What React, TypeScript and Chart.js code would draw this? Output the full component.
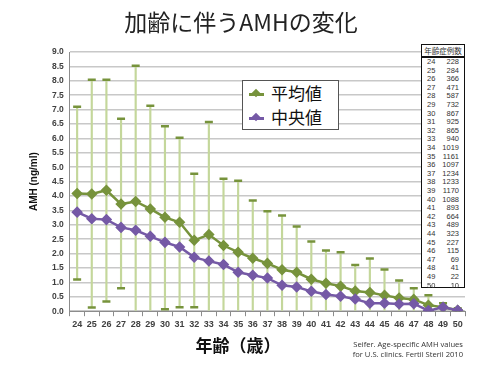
import React, { useEffect, useRef } from "react";
import { Chart, registerables } from "chart.js";

Chart.register(...registerables);

const ages = [24, 25, 26, 27, 28, 29, 30, 31, 32, 33, 34, 35, 36, 37, 38, 39, 40, 41, 42, 43, 44, 45, 46, 47, 48, 49, 50];
const meanValues = [4.09, 4.07, 4.2, 3.72, 3.81, 3.55, 3.26, 3.09, 2.46, 2.66, 2.28, 2.05, 1.84, 1.66, 1.44, 1.35, 1.11, 0.97, 0.87, 0.7, 0.65, 0.55, 0.46, 0.41, 0.21, 0.14, 0.03];
const medianValues = [3.44, 3.21, 3.18, 2.91, 2.81, 2.6, 2.39, 2.23, 1.87, 1.74, 1.62, 1.35, 1.25, 1.15, 0.9, 0.84, 0.69, 0.58, 0.52, 0.42, 0.28, 0.28, 0.25, 0.26, 0.02, 0.14, 0.03];
const upperValues = [7.1, 8.04, 8.04, 6.68, 8.52, 7.13, 6.42, 6.02, 4.77, 6.57, 4.6, 4.53, 3.84, 3.47, 3.32, 2.94, 2.42, 2.11, 2.05, 1.6, 1.83, 1.45, 1.07, 0.8, 0.55, 0.28, 0.1];
const lowerValues: (number | null)[] = [1.1, 0.13, 0.34, 0.8, null, null, 0.07, 0.14, 0.14, null, null, null, null, null, null, null, null, null, null, null, null, null, null, null, null, null, null];
const caseCounts = [228, 284, 366, 471, 587, 732, 867, 925, 865, 940, 1019, 1161, 1097, 1234, 1233, 1170, 1088, 893, 664, 489, 323, 227, 115, 69, 41, 22, 10];
const yTicks = [0, 0.5, 1, 1.5, 2, 2.5, 3, 3.5, 4, 4.5, 5, 5.5, 6, 6.5, 7, 7.5, 8, 8.5, 9];

const OLIVE = "#77933c";
const LIGHT_OLIVE = "#c4d79b";
const PURPLE = "#7559a6";

export default function App() {
  const canvasRef = useRef<HTMLCanvasElement | null>(null);

  useEffect(() => {
    if (!canvasRef.current) return;
    const chart = new Chart(canvasRef.current, {
      type: "bar",
      data: {
        labels: ages.map(String),
        datasets: [
          {
            type: "bar",
            label: "range",
            data: upperValues.map((u, i) => [lowerValues[i] ?? 0, u]) as any,
            backgroundColor: LIGHT_OLIVE,
            barThickness: 1.5,
            order: 4,
          } as any,
          {
            type: "line",
            label: "upper",
            data: upperValues,
            showLine: false,
            pointStyle: "line",
            pointRadius: 4,
            pointBorderWidth: 2.5,
            pointBorderColor: OLIVE,
            borderColor: OLIVE,
            order: 3,
          } as any,
          {
            type: "line",
            label: "lower",
            data: lowerValues,
            showLine: false,
            pointStyle: "line",
            pointRadius: 4,
            pointBorderWidth: 2.5,
            pointBorderColor: OLIVE,
            borderColor: OLIVE,
            order: 3,
          } as any,
          {
            type: "line",
            label: "平均値",
            data: meanValues,
            borderColor: OLIVE,
            backgroundColor: OLIVE,
            borderWidth: 2.5,
            pointStyle: "rectRot",
            pointRadius: 4,
            pointBackgroundColor: OLIVE,
            pointBorderColor: OLIVE,
            tension: 0,
            order: 2,
          } as any,
          {
            type: "line",
            label: "中央値",
            data: medianValues,
            borderColor: PURPLE,
            backgroundColor: PURPLE,
            borderWidth: 2.5,
            pointStyle: "rectRot",
            pointRadius: 4,
            pointBackgroundColor: PURPLE,
            pointBorderColor: PURPLE,
            tension: 0,
            order: 1,
          } as any,
        ],
      },
      options: {
        responsive: false,
        animation: false,
        layout: { padding: { left: 28, right: 35, top: 52, bottom: 32 } },
        plugins: {
          legend: { display: false },
          tooltip: { enabled: false },
          title: { display: false },
        },
        scales: {
          x: {
            offset: true,
            grid: {
              offset: true,
              drawOnChartArea: false,
              drawTicks: true,
              tickLength: 5,
              color: "#8c8c8c",
            },
            border: { display: true, color: "#8c8c8c", width: 1 },
            ticks: {
              color: "#404040",
              font: { family: "'Liberation Sans', Arial, sans-serif", size: 9, weight: "bold" },
              maxRotation: 0,
              autoSkip: false,
              padding: 3,
            },
          },
          y: {
            min: 0,
            max: 9,
            afterBuildTicks: (scale: any) => {
              scale.ticks = yTicks.map((v) => ({ value: v }));
            },
            grid: { color: "#c8c8c8", lineWidth: 1.5, drawTicks: false },
            border: { display: true, color: "#8c8c8c", width: 1 },
            ticks: {
              color: "#404040",
              font: { family: "'Liberation Sans', Arial, sans-serif", size: 8.5, weight: "bold" },
              padding: 6,
              callback: (v: any) => Number(v).toFixed(1),
            },
            title: {
              display: true,
              text: "AMH (ng/ml)",
              color: "#111",
              font: { family: "'Liberation Sans', Arial, sans-serif", size: 10, weight: "bold" },
              padding: { top: 0, bottom: 6 },
            },
          },
        },
      },
    });
    return () => chart.destroy();
  }, []);

  const legendRow = (color: string, text: string, top: number) => (
    <div style={{ position: "absolute", left: 0, top, height: 20, width: 96 }}>
      <div style={{ position: "absolute", left: 6, top: 9, width: 15, height: 2.5, background: color }} />
      <div
        style={{
          position: "absolute",
          left: 10,
          top: 6,
          width: 6,
          height: 6,
          background: color,
          transform: "rotate(45deg)",
        }}
      />
      <div
        style={{
          position: "absolute",
          left: 28,
          top: -3,
          fontFamily: "'Noto Sans CJK JP', sans-serif",
          fontSize: 17,
          lineHeight: "24px",
          color: "#111",
        }}
      >
        {text}
      </div>
    </div>
  );

  return (
    <div style={{ position: "absolute", left: 0, top: 0, width: 500, height: 365, background: "#fff", overflow: "hidden" }}>
      <canvas ref={canvasRef} width={500} height={365} style={{ position: "absolute", left: 0, top: 0 }} />
      <div
        style={{
          position: "absolute",
          left: 0,
          width: 482,
          top: 6,
          textAlign: "center",
          fontFamily: "'Noto Sans CJK JP', sans-serif",
          fontSize: 23,
          lineHeight: "30px",
          color: "#222",
        }}
      >
        加齢に伴うAMHの変化
      </div>
      <div
        style={{
          position: "absolute",
          left: 158,
          width: 160,
          top: 333,
          textAlign: "center",
          fontFamily: "'Noto Sans CJK JP', sans-serif",
          fontSize: 17,
          fontWeight: "bold",
          lineHeight: "24px",
          color: "#111",
        }}
      >
        年齢（歳）
      </div>
      <div
        style={{
          position: "absolute",
          left: 242,
          top: 80,
          width: 95,
          height: 48,
          border: "1px solid #555",
          background: "#fff",
        }}
      >
        {legendRow(OLIVE, "平均値", 3)}
        {legendRow(PURPLE, "中央値", 27)}
      </div>
      <div
        style={{
          position: "absolute",
          left: 421,
          top: 44,
          width: 42,
          height: 242,
          border: "1.5px solid #111",
          background: "#fff",
          fontFamily: "'Liberation Sans', Arial, sans-serif",
          color: "#333",
        }}
      >
        <div
          style={{
            height: 11,
            borderBottom: "2px solid #111",
            fontFamily: "'Noto Sans CJK JP', sans-serif",
            fontSize: 7.5,
            lineHeight: "11px",
            textAlign: "center",
            whiteSpace: "nowrap",
          }}
        >
          年齢症例数
        </div>
        {ages.map((a, i) => (
          <div key={a} style={{ position: "absolute", left: 0, top: 13 + i * 8.6, width: 42, height: 8.6, fontSize: 7.5, lineHeight: "8.6px" }}>
            <span style={{ position: "absolute", left: 5 }}>{a}</span>
            <span style={{ position: "absolute", right: 5 }}>{caseCounts[i]}</span>
          </div>
        ))}
      </div>
      <div
        style={{
          position: "absolute",
          right: 37,
          top: 339,
          textAlign: "right",
          fontFamily: "'Open Sans', sans-serif",
          fontSize: 7.6,
          lineHeight: "10px",
          color: "#333",
          whiteSpace: "nowrap",
        }}
      >
        Seifer. Age-specific AMH values
        <br />
        for U.S. clinics. Fertil Steril 2010
      </div>
    </div>
  );
}
